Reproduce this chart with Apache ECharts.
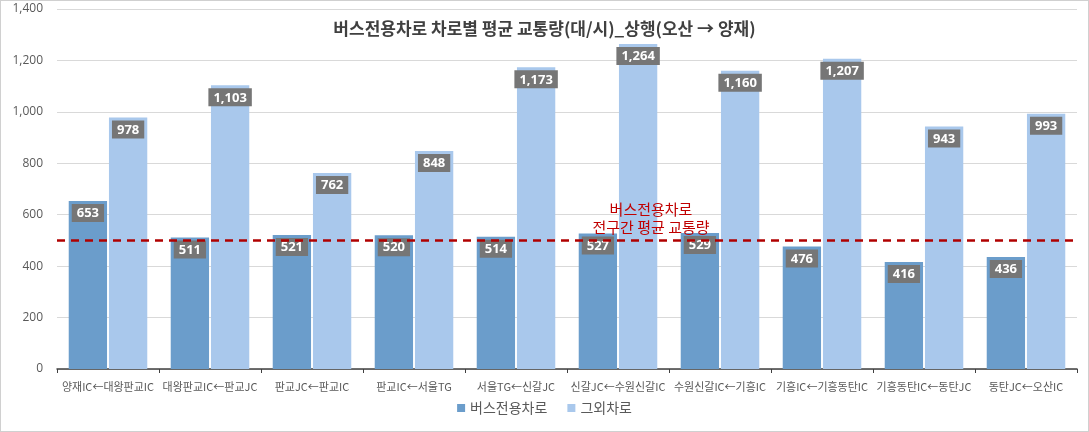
<!DOCTYPE html>
<html>
<head>
<meta charset="utf-8">
<script src="https://cdn.jsdelivr.net/npm/echarts@6/dist/echarts.min.js"></script>
<style>
html,body{margin:0;padding:0;background:#fff;}
#c{width:1089px;height:432px;box-sizing:border-box;border:1px solid #d0d0d0;}
</style>
</head>
<body>
<div id="c"></div>
<script>
const categories = ['양재IC←대왕판교IC','대왕판교IC←판교JC','판교JC←판교IC','판교IC←서울TG','서울TG←신갈JC','신갈JC←수원신갈IC','수원신갈IC←기흥IC','기흥IC←기흥동탄IC','기흥동탄IC←동탄JC','동탄JC←오산IC'];
const busLane = [653,511,521,520,514,527,529,476,416,436];
const otherLane = [978,1103,762,848,1173,1264,1160,1207,943,993];
const busAverage = 500;
const yTicks = {min:0, max:1400, interval:200};

const FONT = '"Noto Sans CJK KR", "Noto Sans", sans-serif';
const chart = echarts.init(document.getElementById('c'));
const lbl = {
  show:true, position:'insideTop', distance:3,
  backgroundColor:'#767676', color:'#fff', fontWeight:'bold', fontSize:13,
  fontFamily:'Open Sans, sans-serif', padding:[3,5,2,5],
  formatter:p=>p.value.toLocaleString('en-US')
};
chart.setOption({
  animation:false,
  textStyle:{fontFamily:FONT},
  title:{text:'버스전용차로 차로별 평균 교통량(대/시)_상행(오산 → 양재)', left:'center', top:14,
    textStyle:{fontSize:17, fontWeight:'bold', color:'#404040', fontFamily:FONT}},
  legend:{bottom:11, left:'center', itemWidth:8, itemHeight:8, itemGap:20, icon:'rect',
    textStyle:{fontSize:14, color:'#595959', fontFamily:FONT}},
  grid:{left:56, right:11, top:8, bottom:62},
  xAxis:{type:'category', data:categories,
    axisLine:{lineStyle:{color:'#404040', width:1.5}},
    axisTick:{show:true, length:4, lineStyle:{color:'#404040'}},
    axisLabel:{fontSize:11, color:'#595959', margin:12, interval:0}},
  yAxis:{type:'value', min:yTicks.min, max:yTicks.max, interval:yTicks.interval,
    axisLine:{show:false}, axisTick:{show:false},
    splitLine:{lineStyle:{color:'#d9d9d9'}},
    axisLabel:{fontSize:12, color:'#595959', margin:14, fontFamily:'Open Sans, sans-serif',
      formatter:v=>v.toLocaleString('en-US')}},
  series:[
    {name:'버스전용차로', type:'bar', data:busLane, barGap:'5%', barCategoryGap:'23%',
      itemStyle:{color:'#6b9dcb'}, label:lbl,
      markLine:{silent:true, symbol:'none', label:{show:false},
        lineStyle:{color:'#b00000', type:[8,6], width:2.5},
        data:[{yAxis:busAverage}]}},
    {name:'그외차로', type:'bar', data:otherLane,
      itemStyle:{color:'#a9c8ec'}, label:lbl}
  ],
  graphic:[
    {type:'text', x:650, y:199, z:100,
     style:{text:'버스전용차로\n전구간 평균 교통량', fill:'#c00000', fontSize:15, fontFamily:FONT,
       align:'center', verticalAlign:'top', lineHeight:18}}
  ]
});
</script>
</body>
</html>
